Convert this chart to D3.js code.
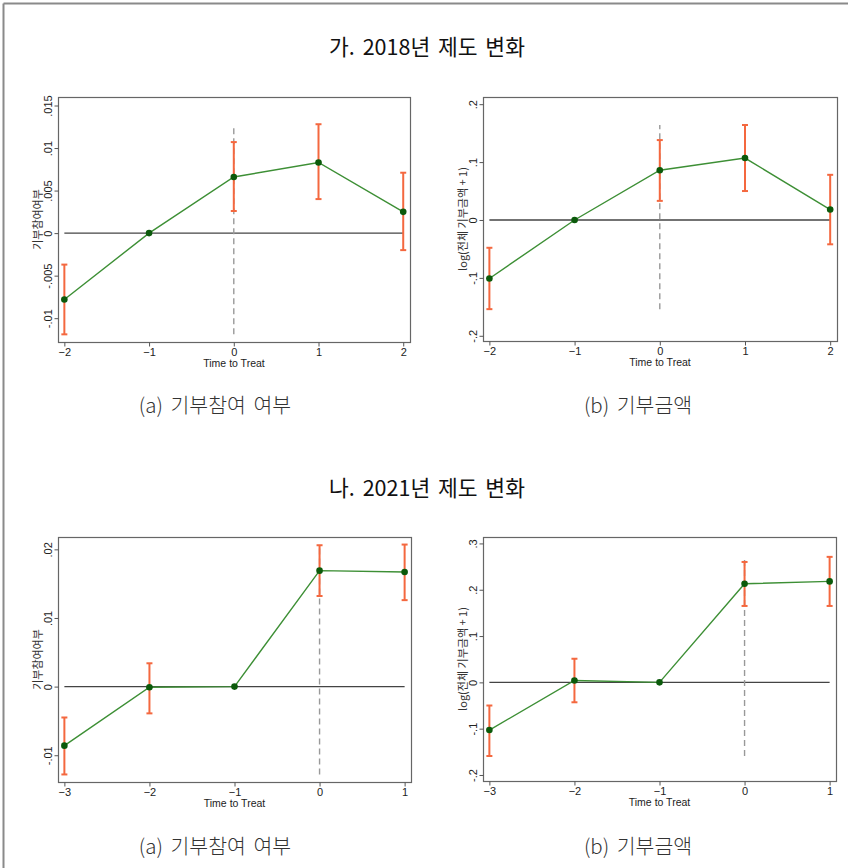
<!DOCTYPE html>
<html><head><meta charset="utf-8">
<script src="https://cdn.jsdelivr.net/npm/d3@7"></script>
<style>body{margin:0;background:#fff}</style>
</head><body>
<svg id="c" width="848" height="868"></svg>
<script>
// ---- data ----
const sectionTitles = ["가. 2018년 제도 변화", "나. 2021년 제도 변화"];
const captions = ["(a) 기부참여 여부", "(b) 기부금액", "(a) 기부참여 여부", "(b) 기부금액"];
const yTitles = ["기부참여여부", "log(전체 기부금액 + 1)", "기부참여여부", "log(전체 기부금액 + 1)"];
const xTitle = "Time to Treat";

const periods2018 = [-2, -1, 0, 1, 2];
const periods2021 = [-3, -2, -1, 0, 1];

const coefA2018 = [-0.0078, 0, 0.0066, 0.0083, 0.0025];
const loA2018   = [-0.0119, 0, 0.0026, 0.0040, -0.0020];
const hiA2018   = [-0.0037, 0, 0.0107, 0.0128, 0.0071];

const coefB2018 = [-0.101, 0, 0.086, 0.107, 0.018];
const loB2018   = [-0.154, 0, 0.033, 0.050, -0.042];
const hiB2018   = [-0.048, 0, 0.138, 0.164, 0.078];

const coefA2021 = [-0.0086, -0.0001, 0, 0.0169, 0.0167];
const loA2021   = [-0.0128, -0.0039, 0, 0.0132, 0.0126];
const hiA2021   = [-0.0045, 0.0034, 0, 0.0206, 0.0207];

const coefB2021 = [-0.103, 0.004, 0, 0.213, 0.218];
const loB2021   = [-0.159, -0.043, 0, 0.165, 0.165];
const hiB2021   = [-0.050, 0.051, 0, 0.260, 0.271];

const yTicksA2018 = [-0.01, -0.005, 0, 0.005, 0.01, 0.015];
const yTickLabelsA2018 = ["-.01", "-.005", "0", ".005", ".01", ".015"];
const yTicksB2018 = [-0.2, -0.1, 0, 0.1, 0.2];
const yTickLabelsB2018 = ["-.2", "-.1", "0", ".1", ".2"];
const yTicksA2021 = [-0.01, 0, 0.01, 0.02];
const yTickLabelsA2021 = ["-.01", "0", ".01", ".02"];
const yTicksB2021 = [-0.2, -0.1, 0, 0.1, 0.2, 0.3];
const yTickLabelsB2021 = ["-.2", "-.1", "0", ".1", ".2", ".3"];

const xDomain2018 = [-2.075, 2.08];
const xDomain2021 = [-3.075, 1.075];
const yDomainA2018 = [-0.0128, 0.0160];
const yDomainB2018 = [-0.209, 0.2124];
const yDomainA2021 = [-0.0139, 0.0218];
const yDomainB2021 = [-0.213, 0.3139];

// ---- layout ----
const panels = [
  {box:[58,410,97,342], x:periods2018, c:coefA2018, lo:loA2018, hi:hiA2018, xd:xDomain2018, yd:yDomainA2018, yt:yTicksA2018, ytl:yTickLabelsA2018},
  {box:[483,837,97,341], x:periods2018, c:coefB2018, lo:loB2018, hi:hiB2018, xd:xDomain2018, yd:yDomainB2018, yt:yTicksB2018, ytl:yTickLabelsB2018},
  {box:[58,411,537,782], x:periods2021, c:coefA2021, lo:loA2021, hi:hiA2021, xd:xDomain2021, yd:yDomainA2021, yt:yTicksA2021, ytl:yTickLabelsA2021},
  {box:[483,836,537,781], x:periods2021, c:coefB2021, lo:loB2021, hi:hiB2021, xd:xDomain2021, yd:yDomainB2021, yt:yTicksB2021, ytl:yTickLabelsB2021}
];

const svg = d3.select("#c");
const KR = "'Noto Sans CJK KR','Noto Sans',sans-serif";
const AR = "'Liberation Sans',Arial,sans-serif";

// outer frame (top & left edges)
svg.append("line").attr("x1",3.5).attr("x2",848).attr("y1",3.5).attr("y2",3.5).attr("stroke","#8a8a8a").attr("stroke-width",2);
svg.append("line").attr("x1",3.5).attr("x2",3.5).attr("y1",3.5).attr("y2",868).attr("stroke","#8a8a8a").attr("stroke-width",2);

// section titles
[55, 496].forEach((y,i)=>{
  svg.append("text").attr("x",427).attr("y",y).attr("text-anchor","middle")
    .attr("font-family",KR).attr("font-size",21.5).attr("font-weight",400).attr("fill","#111")
    .attr("word-spacing",3)
    .text(sectionTitles[i]);
});
// captions
[[215,413],[638,413],[215,854],[638,854]].forEach((p,i)=>{
  svg.append("text").attr("x",p[0]).attr("y",p[1]).attr("text-anchor","middle")
    .attr("font-family",KR).attr("font-size",20.5).attr("font-weight",300).attr("fill","#333")
    .attr("word-spacing",3)
    .text(captions[i]);
});

panels.forEach((p,i)=>{
  const [L,R,T,B] = p.box;
  const x = d3.scaleLinear().domain(p.xd).range([L,R]);
  const y = d3.scaleLinear().domain(p.yd).range([B,T]);
  const g = svg.append("g");

  // frame
  g.append("rect").attr("x",L+0.5).attr("y",T+0.5).attr("width",R-L).attr("height",B-T)
    .attr("fill","#fff").attr("stroke","#666").attr("stroke-width",1.2);

  // x axis ticks
  const xa = d3.axisBottom(x).tickValues(p.x).tickSize(4).tickFormat(d3.format("d"));
  const gx = g.append("g").attr("transform",`translate(0,${B+0.5})`).call(xa);
  gx.select(".domain").remove();
  gx.selectAll("line").attr("stroke","#555");
  gx.selectAll("text").attr("font-family",AR).attr("font-size",11).attr("fill","#222").attr("dy","0.6em");
  g.append("text").attr("x",(L+R)/2).attr("y",B+25).attr("text-anchor","middle")
    .attr("font-family",AR).attr("font-size",10.5).attr("fill","#222").text(xTitle);

  // y axis ticks
  const ya = d3.axisLeft(y).tickValues(p.yt).tickSize(4).tickFormat((d,k)=>p.ytl[k]);
  const gy = g.append("g").attr("transform",`translate(${L+0.5},0)`).call(ya);
  gy.select(".domain").remove();
  gy.selectAll("line").attr("stroke","#555");
  gy.selectAll("text").attr("font-family",AR).attr("font-size",11).attr("fill","#222")
    .attr("x",null).attr("dy",null).attr("text-anchor","middle")
    .attr("transform","translate(-7,0) rotate(-90)");
  g.append("text").attr("transform",`translate(${L-16},${(T+B)/2}) rotate(-90)`)
    .attr("text-anchor","middle").attr("font-family",KR).attr("font-size",11).attr("fill","#333")
    .text(yTitles[i]);

  // zero line
  g.append("line").attr("x1",x(p.x[0])).attr("x2",x(p.x[p.x.length-1]))
    .attr("y1",y(0)).attr("y2",y(0)).attr("stroke","#444").attr("stroke-width",1.4);

  // dashed line at treatment (spans CI range)
  const ymin = d3.min(p.lo), ymax = d3.max(p.hi);
  g.append("line").attr("x1",x(0)).attr("x2",x(0)).attr("y1",y(ymin)).attr("y2",y(ymax))
    .attr("stroke","#999").attr("stroke-width",1.4).attr("stroke-dasharray","6,4");

  // error bars
  const eb = p.x.map((d,k)=>({t:d,lo:p.lo[k],hi:p.hi[k]})).filter(d=>d.lo!==d.hi);
  const ge = g.append("g").attr("stroke","#f4683f").attr("stroke-width",2);
  eb.forEach(d=>{
    ge.append("line").attr("x1",x(d.t)).attr("x2",x(d.t)).attr("y1",y(d.lo)).attr("y2",y(d.hi));
    ge.append("line").attr("x1",x(d.t)-3).attr("x2",x(d.t)+3).attr("y1",y(d.lo)).attr("y2",y(d.lo));
    ge.append("line").attr("x1",x(d.t)-3).attr("x2",x(d.t)+3).attr("y1",y(d.hi)).attr("y2",y(d.hi));
  });

  // line + points
  const pts = p.x.map((d,k)=>[d,p.c[k]]);
  g.append("path").datum(pts).attr("fill","none").attr("stroke","#3d8f35").attr("stroke-width",1.4)
    .attr("d",d3.line().x(d=>x(d[0])).y(d=>y(d[1])));
  g.selectAll("circle.pt").data(pts).enter().append("circle").attr("class","pt")
    .attr("cx",d=>x(d[0])).attr("cy",d=>y(d[1])).attr("r",3.3).attr("fill","#0b5a0b");
});
</script>
</body></html>
